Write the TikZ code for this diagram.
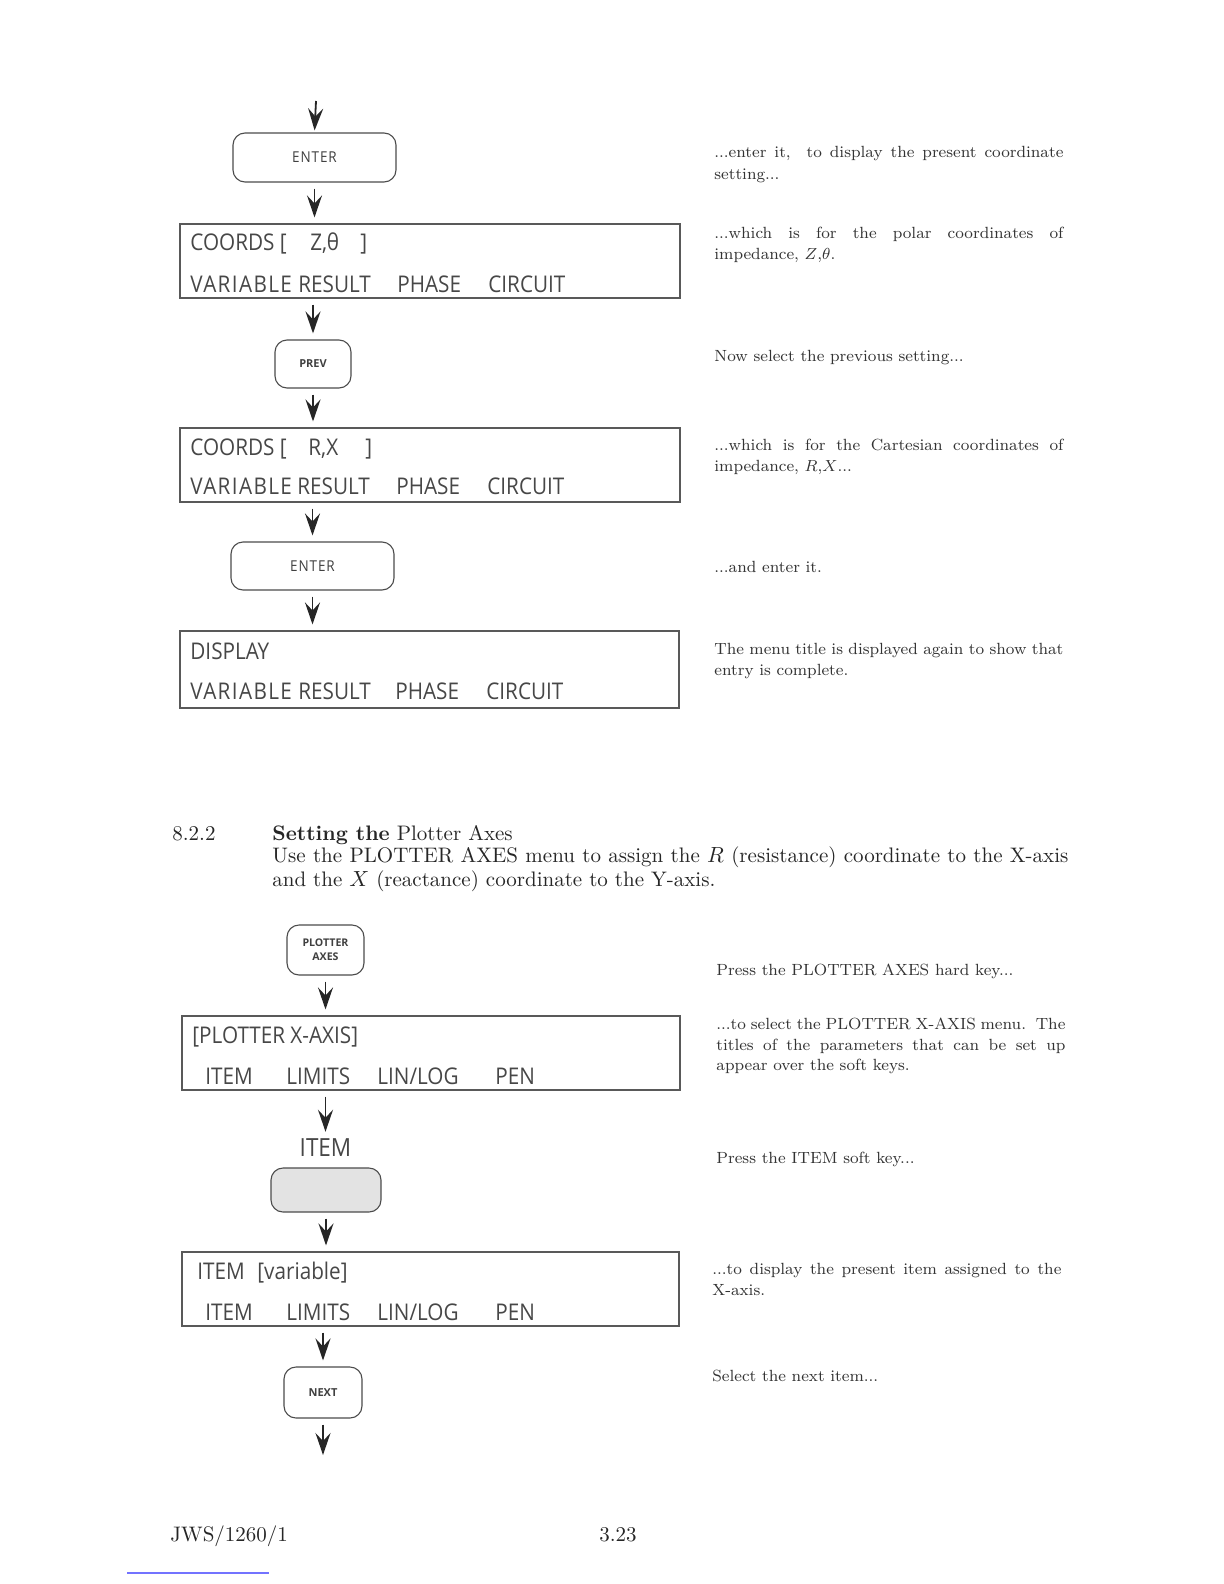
\documentclass[tikz,border=0pt]{standalone}
\usepackage{fontspec}
\usetikzlibrary{arrows.meta}
\newfontfamily\dispfont{Open Sans}[FakeStretch=0.9]
\newfontfamily\widefont{Open Sans}[FakeStretch=0.9,LetterSpace=6]
\newfontfamily\keyfont{Open Sans}
\newcommand\fullline[1]{\makebox[174.5pt][s]{#1}}
\begin{document}
\begin{tikzpicture}[x=0.5pt,y=-0.5pt,
  disp/.style={draw=black!65, line width=0.55pt, inner sep=0pt, minimum width=250pt, minimum height=37pt},
  keybox/.style={draw=black!70, line width=0.55pt, rounded corners=6pt, inner sep=0pt, align=center, text=black!75},
  dtext/.style={anchor=base west, inner sep=0pt, font=\dispfont\fontsize{11.5}{13}\selectfont, text=black!72},
  note/.style={anchor=base west, inner sep=0pt, font=\fontsize{8.1}{10}\selectfont, text=black!80},
  flow/.style={-{Stealth[length=11pt,width=7.5pt,inset=4pt]}, line width=0.9pt, black!85, shorten <=3pt, shorten >=3pt},
  body/.style={anchor=base west, inner sep=0pt, font=\fontsize{10.5}{12.5}\selectfont, text=black!85}
]
\useasboundingbox (0,0) rectangle (1224,1584);
\fill[white] (0,0) rectangle (1224,1584);

% ---------- upper flow ----------
\coordinate (top) at (316,101);
\node[keybox, minimum width=81.5pt, minimum height=24.5pt, font=\widefont\fontsize{7.5}{9}\selectfont] (k1) at (314.5,157.5) {ENTER};
\node[disp] (d1) at (430,261) {};
\node[dtext] (d1a) at (190,250) {COORDS [};
\node[dtext] (d1b) at (310,250) {Z,θ};
\node[dtext] (d1c) at (360,250) {]};
\node[dtext, font=\widefont\fontsize{11.5}{13}\selectfont] (d1d) at (190,292) {VARIABLE};
\node[dtext] (d1e) at (298,292) {RESULT};
\node[dtext] (d1f) at (397,292) {PHASE};
\node[dtext] (d1g) at (488,292) {CIRCUIT};

\node[keybox, minimum width=38pt, minimum height=24pt, font=\keyfont\bfseries\fontsize{5.5}{7}\selectfont] (k2) at (313,364) {PREV};
\node[disp] (d2) at (430,465) {};
\node[dtext] (d2a) at (190,455) {COORDS [};
\node[dtext] (d2b) at (308,455) {R,X};
\node[dtext] (d2c) at (365,455) {]};
\node[dtext, font=\widefont\fontsize{11.5}{13}\selectfont] (d2d) at (190,494) {VARIABLE};
\node[dtext] (d2e) at (297,494) {RESULT};
\node[dtext] (d2f) at (396,494) {PHASE};
\node[dtext] (d2g) at (487,494) {CIRCUIT};

\node[keybox, minimum width=81.5pt, minimum height=24pt, font=\widefont\fontsize{7.5}{9}\selectfont] (k3) at (312.5,566) {ENTER};
\node[disp, minimum width=249.5pt, minimum height=38.5pt] (d3) at (429.5,669.5) {};
\node[dtext] (d3a) at (190,659) {DISPLAY};
\node[dtext, font=\widefont\fontsize{11.5}{13}\selectfont] (d3d) at (190,699) {VARIABLE};
\node[dtext] (d3e) at (298,699) {RESULT};
\node[dtext] (d3f) at (395,699) {PHASE};
\node[dtext] (d3g) at (486,699) {CIRCUIT};

\draw[flow, shorten <=0pt, shorten >=1pt] (top) -- (k1.north);
\draw[flow] (k1.south) -- (k1.south |- d1.north);
\draw[flow] (d1.south -| k2.north) -- (k2.north);
\draw[flow] (k2.south) -- (k2.south |- d2.north);
\draw[flow] (d2.south -| k3.north) -- (k3.north);
\draw[flow] (k3.south) -- (k3.south |- d3.north);

% ---------- right notes, upper ----------
\node[note] (n1) at (714,157.5) {\fullline{...enter it,\ \ to display the present coordinate}};
\node[note] (n2) at (714,179) {setting...};
\node[note] (n3) at (714,238) {\fullline{...which is for the polar coordinates of}};
\node[note] (n4) at (714,259.5) {impedance, $Z$,$\theta$.};
\node[note] (n5) at (714,361.5) {Now select the previous setting...};
\node[note] (n6) at (714,450) {\fullline{...which is for the Cartesian coordinates of}};
\node[note] (n7) at (714,471.5) {impedance, $R$,$X$...};
\node[note] (n8) at (714,572.6) {...and enter it.};
\node[note] (n9) at (714,654) {\fullline{The menu title is displayed again to show that}};
\node[note] (n10) at (714,675.6) {entry is complete.};

% ---------- section heading ----------
\node[body] (h1) at (172,840) {8.2.2};
\node[body] (h2) at (272,840) {\textbf{Setting the} Plotter Axes};
\node[body] (h3) at (272,862) {\makebox[398pt][s]{Use the PLOTTER AXES menu to assign the $R$ (resistance) coordinate to the X-axis}};
\node[body] (h4) at (272,886) {and the $X$ (reactance) coordinate to the Y-axis.};

% ---------- lower flow ----------
\node[keybox, minimum width=38.5pt, minimum height=25pt, font=\keyfont\bfseries\fontsize{5.3}{7}\selectfont] (k4) at (325.5,950) {PLOTTER\\AXES};
\node[disp, minimum width=249pt] (d4) at (431,1053) {};
\node[dtext] (d4a) at (192,1043) {[PLOTTER X-AXIS]};
\node[dtext] (d4b) at (205,1084) {ITEM};
\node[dtext] (d4c) at (286,1084) {LIMITS};
\node[dtext] (d4d) at (377,1084) {LIN/LOG};
\node[dtext] (d4e) at (495,1084) {PEN};

\node[dtext, anchor=base, font=\dispfont\fontsize{12.5}{14}\selectfont] (il) at (325.5,1156) {ITEM};
\node[keybox, fill=black!11, minimum width=55pt, minimum height=22pt] (k5) at (326,1190) {};

\node[disp, minimum width=248.5pt] (d5) at (430.5,1289) {};
\node[dtext] (d5a) at (197,1279) {ITEM};
\node[dtext] (d5b) at (257,1279) {[variable]};
\node[dtext] (d5c) at (205,1320) {ITEM};
\node[dtext] (d5d) at (286,1320) {LIMITS};
\node[dtext] (d5e) at (377,1320) {LIN/LOG};
\node[dtext] (d5f) at (495,1320) {PEN};

\node[keybox, minimum width=39pt, minimum height=25.5pt, font=\keyfont\bfseries\fontsize{5.5}{7}\selectfont] (k6) at (323,1392.5) {NEXT};
\coordinate (bot) at (323,1455);

\draw[flow] (k4.south) -- (k4.south |- d4.north);
\draw[flow] (d4.south -| il.north) -- (il.north);
\draw[flow] (k5.south) -- (k5.south |- d5.north);
\draw[flow] (d5.south -| k6.north) -- (k6.north);
\draw[flow, shorten >=0pt] (k6.south) -- (bot);

% ---------- right notes, lower ----------
\node[note] (m1) at (716,975.5) {Press the PLOTTER AXES hard key...};
\node[note] (m2) at (716,1029) {\fullline{...to select the PLOTTER X-AXIS menu.\ \ The}};
\node[note] (m3) at (716,1050) {\fullline{titles of the parameters that can be set up}};
\node[note] (m4) at (716,1070) {appear over the soft keys.};
\node[note] (m5) at (716,1163) {Press the ITEM soft key...};
\node[note] (m6) at (712,1274) {\fullline{...to display the present item assigned to the}};
\node[note] (m7) at (712,1295.6) {X-axis.};
\node[note] (m8) at (712,1381.5) {Select the next item...};

% ---------- footer ----------
\node[body, font=\fontsize{10.5}{12}\selectfont] (f1) at (170,1541) {JWS/1260/1};
\node[body, font=\fontsize{10.5}{12}\selectfont] (f2) at (599,1541) {3.23};
\draw[blue!55!white, line width=0.6pt] (127,1573) -- (269,1573);
\end{tikzpicture}
\end{document}
